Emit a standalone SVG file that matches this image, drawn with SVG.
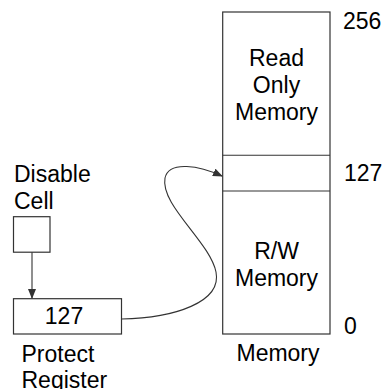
<svg xmlns="http://www.w3.org/2000/svg" width="385" height="389" viewBox="0 0 385 389">
<style>
.box{fill:#fff;stroke:#333;stroke-width:1.2}
.ln{fill:none;stroke:#333;stroke-width:1.1}
text{font-family:"Liberation Sans",Arial,sans-serif;font-size:23px;fill:#000}
.c{text-anchor:middle}
</style>
<defs>
<marker id="ah" markerWidth="10" markerHeight="8" refX="9" refY="4" orient="auto" markerUnits="userSpaceOnUse">
<path d="M0,0 L10,4 L0,8 z" fill="#333"/>
</marker>
</defs>
<g id="memory">
<rect class="box" x="222.7" y="12" width="107.3" height="322"/>
<line class="ln" x1="222.7" y1="155.3" x2="330" y2="155.3"/>
<line class="ln" x1="222.7" y1="191" x2="330" y2="191"/>
<text class="c" x="276.5" y="66">Read</text>
<text class="c" x="276.5" y="93">Only</text>
<text class="c" x="276.5" y="120">Memory</text>
<text class="c" x="276.5" y="259">R/W</text>
<text class="c" x="276.5" y="286">Memory</text>
<text class="c" x="278" y="361">Memory</text>
<text x="343" y="29">256</text>
<text x="344" y="181">127</text>
<text x="344" y="334">0</text>
</g>
<g id="disable-cell">
<text x="14" y="182">Disable</text>
<text x="14" y="209">Cell</text>
<rect class="box" x="13.5" y="216.7" width="36.5" height="35.5"/>
</g>
<g id="protect-register">
<rect class="box" x="13.5" y="298.7" width="108" height="35.3"/>
<text class="c" x="64" y="324">127</text>
<text x="21.5" y="362">Protect</text>
<text x="21.5" y="388">Register</text>
</g>
<g id="connectors">
<line class="ln" x1="32" y1="252.2" x2="32" y2="298" marker-end="url(#ah)"/>
<path class="ln" d="M121.5,319 C175,318 222,302 216,272 C210,242 160,205 165,178 C169,160 200,166 222,176" marker-end="url(#ah)"/>
</g>
</svg>
